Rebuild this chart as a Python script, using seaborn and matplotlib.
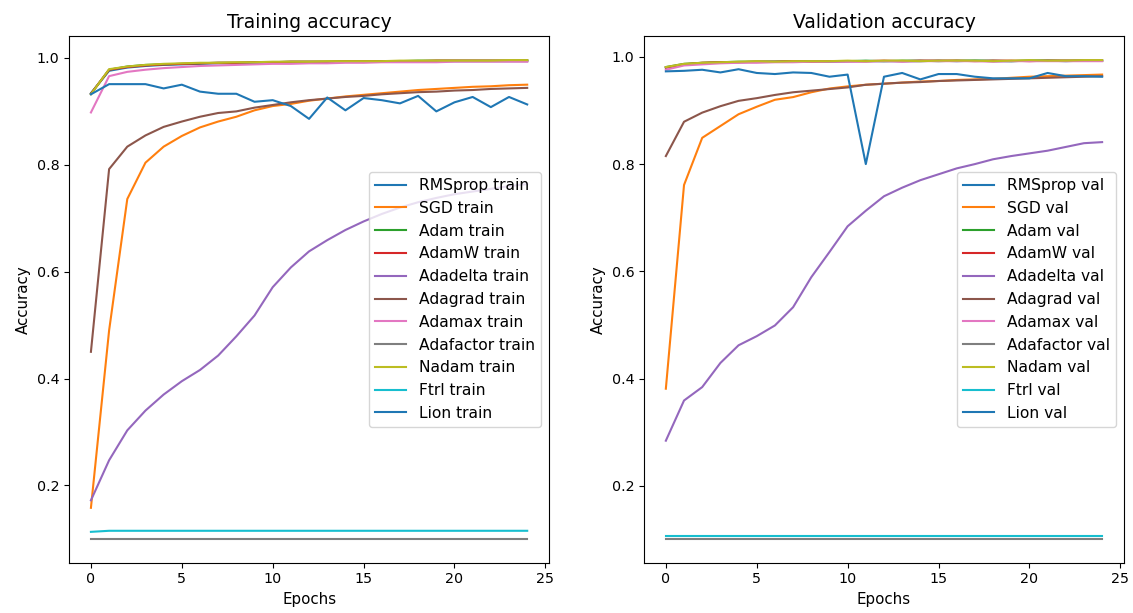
import matplotlib
matplotlib.use("Agg")
import matplotlib.pyplot as plt
import seaborn as sns
import numpy as np

epochs = list(range(25))
optimizers = ["RMSprop", "SGD", "Adam", "AdamW", "Adadelta", "Adagrad",
              "Adamax", "Adafactor", "Nadam", "Ftrl", "Lion"]

# ---- training accuracy ----
rmsprop_train = [0.934, 0.976, 0.982, 0.985, 0.987, 0.988, 0.989, 0.990, 0.990, 0.991, 0.991, 0.992,
                 0.992, 0.992, 0.993, 0.993, 0.993, 0.993, 0.994, 0.994, 0.994, 0.994, 0.994, 0.994, 0.994]
sgd_train = [0.158, 0.490, 0.736, 0.804, 0.834, 0.854, 0.870, 0.881, 0.890, 0.902, 0.910, 0.914,
             0.920, 0.924, 0.928, 0.931, 0.934, 0.937, 0.940, 0.942, 0.944, 0.946, 0.947, 0.949, 0.950]
adam_train = [0.933, 0.978, 0.984, 0.987, 0.988, 0.989, 0.990, 0.991, 0.991, 0.992, 0.992, 0.993,
              0.993, 0.993, 0.994, 0.994, 0.994, 0.994, 0.995, 0.995, 0.995, 0.995, 0.995, 0.995, 0.996]
adamw_train = [0.933, 0.978, 0.983, 0.986, 0.988, 0.989, 0.990, 0.991, 0.991, 0.992, 0.992, 0.993,
               0.993, 0.993, 0.994, 0.994, 0.994, 0.994, 0.994, 0.995, 0.995, 0.995, 0.995, 0.995, 0.995]
adadelta_train = [0.172, 0.247, 0.303, 0.340, 0.370, 0.395, 0.416, 0.443, 0.479, 0.518, 0.571, 0.608,
                  0.638, 0.659, 0.678, 0.694, 0.708, 0.720, 0.730, 0.738, 0.745, 0.750, 0.755, 0.760, 0.764]
adagrad_train = [0.450, 0.792, 0.834, 0.855, 0.871, 0.881, 0.890, 0.897, 0.900, 0.907, 0.912, 0.917,
                 0.921, 0.924, 0.927, 0.929, 0.932, 0.934, 0.936, 0.937, 0.939, 0.940, 0.942, 0.943, 0.944]
adamax_train = [0.898, 0.966, 0.974, 0.978, 0.981, 0.983, 0.985, 0.986, 0.987, 0.988, 0.989, 0.989,
                0.990, 0.990, 0.991, 0.991, 0.992, 0.992, 0.992, 0.992, 0.993, 0.993, 0.993, 0.993, 0.993]
adafactor_train = [0.100] * 25
nadam_train = [0.932, 0.979, 0.984, 0.987, 0.989, 0.990, 0.991, 0.991, 0.992, 0.992, 0.993, 0.993,
               0.993, 0.994, 0.994, 0.994, 0.994, 0.995, 0.995, 0.995, 0.995, 0.995, 0.995, 0.996, 0.996]
ftrl_train = [0.113, 0.115, 0.115, 0.115, 0.115, 0.115, 0.115, 0.115, 0.115, 0.115, 0.115, 0.115,
              0.115, 0.115, 0.115, 0.115, 0.115, 0.115, 0.115, 0.115, 0.115, 0.115, 0.115, 0.115, 0.115]
lion_train = [0.932, 0.951, 0.951, 0.951, 0.943, 0.950, 0.937, 0.933, 0.933, 0.918, 0.921, 0.910,
              0.886, 0.926, 0.902, 0.925, 0.921, 0.915, 0.929, 0.900, 0.917, 0.927, 0.908, 0.927, 0.913]

# ---- validation accuracy ----
rmsprop_val = [0.980, 0.986, 0.988, 0.990, 0.990, 0.991, 0.991, 0.991, 0.992, 0.991, 0.992, 0.992,
               0.992, 0.992, 0.992, 0.993, 0.992, 0.993, 0.992, 0.992, 0.993, 0.993, 0.992, 0.993, 0.993]
sgd_val = [0.381, 0.761, 0.849, 0.871, 0.893, 0.907, 0.920, 0.925, 0.934, 0.941, 0.945, 0.948,
           0.950, 0.952, 0.954, 0.955, 0.957, 0.958, 0.959, 0.961, 0.963, 0.964, 0.965, 0.966, 0.967]
adam_val = [0.981, 0.987, 0.989, 0.990, 0.991, 0.991, 0.991, 0.992, 0.992, 0.992, 0.992, 0.993,
            0.992, 0.993, 0.993, 0.992, 0.993, 0.993, 0.993, 0.992, 0.993, 0.993, 0.993, 0.993, 0.993]
adamw_val = [0.980, 0.986, 0.989, 0.990, 0.990, 0.991, 0.991, 0.992, 0.991, 0.992, 0.992, 0.992,
             0.993, 0.992, 0.993, 0.993, 0.993, 0.992, 0.993, 0.993, 0.992, 0.993, 0.993, 0.993, 0.993]
adadelta_val = [0.284, 0.359, 0.384, 0.429, 0.462, 0.479, 0.499, 0.533, 0.589, 0.636, 0.684, 0.713,
                0.740, 0.756, 0.770, 0.781, 0.792, 0.800, 0.809, 0.815, 0.820, 0.825, 0.832, 0.839, 0.841]
adagrad_val = [0.815, 0.879, 0.896, 0.908, 0.918, 0.923, 0.929, 0.934, 0.937, 0.940, 0.943, 0.948,
               0.950, 0.952, 0.953, 0.955, 0.956, 0.957, 0.958, 0.959, 0.960, 0.961, 0.962, 0.963, 0.964]
adamax_val = [0.976, 0.984, 0.986, 0.988, 0.989, 0.989, 0.990, 0.990, 0.991, 0.991, 0.991, 0.991,
              0.992, 0.991, 0.992, 0.992, 0.992, 0.992, 0.991, 0.992, 0.992, 0.992, 0.992, 0.992, 0.992]
adafactor_val = [0.101] * 25
nadam_val = [0.981, 0.987, 0.989, 0.990, 0.991, 0.992, 0.991, 0.992, 0.992, 0.992, 0.993, 0.992,
             0.993, 0.993, 0.992, 0.993, 0.993, 0.993, 0.992, 0.993, 0.994, 0.993, 0.993, 0.994, 0.994]
ftrl_val = [0.107] * 25
lion_val = [0.973, 0.974, 0.976, 0.971, 0.977, 0.970, 0.968, 0.971, 0.970, 0.963, 0.967, 0.800,
            0.963, 0.970, 0.958, 0.968, 0.968, 0.963, 0.960, 0.960, 0.960, 0.970, 0.964, 0.964, 0.963]

train_series = [rmsprop_train, sgd_train, adam_train, adamw_train, adadelta_train, adagrad_train,
                adamax_train, adafactor_train, nadam_train, ftrl_train, lion_train]
val_series = [rmsprop_val, sgd_val, adam_val, adamw_val, adadelta_val, adagrad_val,
              adamax_val, adafactor_val, nadam_val, ftrl_val, lion_val]

palette = sns.color_palette("tab10", 10)

fig, axes = plt.subplots(1, 2, figsize=(11.33, 6.13), dpi=100)
fig.subplots_adjust(left=0.061, right=0.992, bottom=0.082, top=0.941, wspace=0.198)

for ax, series, suffix, title in [(axes[0], train_series, "train", "Training accuracy"),
                                  (axes[1], val_series, "val", "Validation accuracy")]:
    for i, (name, vals) in enumerate(zip(optimizers, series)):
        sns.lineplot(x=epochs, y=vals, ax=ax, color=palette[i % 10],
                     label=f"{name} {suffix}", linewidth=1.5)
    ax.set_title(title, fontsize=13.5)
    ax.set_xlabel("Epochs", fontsize=10.8)
    ax.set_ylabel("Accuracy", fontsize=10.8)
    ax.set_xticks([0, 5, 10, 15, 20, 25])
    ax.tick_params(labelsize=10.3)
    ax.legend(loc="center right", fontsize=11.2)

fig.savefig("out.png", dpi=100)
